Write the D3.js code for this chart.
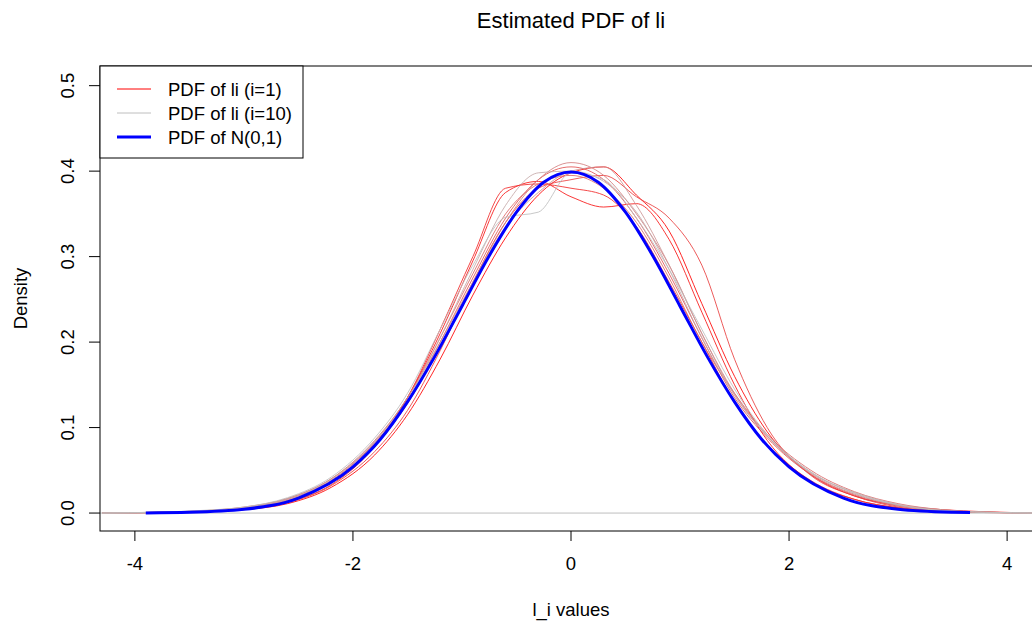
<!DOCTYPE html>
<html lang="en">
<head>
  <meta charset="UTF-8">
  <title>Estimated PDF of li</title>
  <script src="https://d3js.org/d3.v7.min.js"></script>
  <style>
    body { margin: 0; background: #fff; }
    text { font-family: "Liberation Sans", Arial, sans-serif; fill: #000; }
  </style>
</head>
<body>
  <div id="chart"></div>
  <script>
    // Data
    const gridX = [-4.3, -3.8, -3.4, -3, -2.6, -2.2, -1.8, -1.5, -1.2, -0.9, -0.6, -0.3, 0,
                   0.3, 0.6, 0.9, 1.2, 1.5, 1.8, 2.2, 2.6, 3, 3.4, 3.8, 4.3];

    const pdf1  = [0, 0.0005, 0.0015, 0.004, 0.011, 0.030, 0.068, 0.115, 0.180, 0.255, 0.322, 0.372, 0.398, 0.405, 0.372, 0.330, 0.245, 0.160, 0.095, 0.045, 0.020, 0.009, 0.004, 0.0015, 0];
    const pdf2  = [0, 0.0008, 0.002, 0.005, 0.014, 0.036, 0.080, 0.135, 0.210, 0.295, 0.375, 0.388, 0.370, 0.358, 0.362, 0.320, 0.235, 0.150, 0.085, 0.037, 0.016, 0.006, 0.002, 0.0008, 0];
    const pdf3  = [0, 0.0006, 0.0018, 0.005, 0.013, 0.033, 0.078, 0.135, 0.215, 0.300, 0.380, 0.385, 0.380, 0.372, 0.335, 0.270, 0.200, 0.130, 0.080, 0.038, 0.016, 0.006, 0.002, 0.0006, 0];
    const pdf4  = [0, 0.0004, 0.0012, 0.004, 0.012, 0.032, 0.072, 0.120, 0.190, 0.270, 0.340, 0.380, 0.390, 0.395, 0.370, 0.345, 0.290, 0.180, 0.100, 0.044, 0.020, 0.007, 0.002, 0.0006, 0];
    const pdf5  = [0, 0.0007, 0.002, 0.006, 0.016, 0.038, 0.082, 0.130, 0.200, 0.275, 0.345, 0.390, 0.405, 0.390, 0.345, 0.280, 0.205, 0.135, 0.088, 0.045, 0.021, 0.008, 0.003, 0.001, 0];
    const pdf6  = [0, 0.001, 0.0025, 0.007, 0.017, 0.040, 0.085, 0.135, 0.205, 0.280, 0.350, 0.385, 0.395, 0.380, 0.340, 0.275, 0.200, 0.140, 0.092, 0.050, 0.025, 0.011, 0.004, 0.001, 0];
    const pdf7  = [0, 0.0008, 0.002, 0.006, 0.015, 0.036, 0.078, 0.128, 0.195, 0.270, 0.340, 0.390, 0.410, 0.395, 0.350, 0.290, 0.210, 0.140, 0.090, 0.046, 0.022, 0.009, 0.003, 0.001, 0];
    const pdf8  = [0, 0.0009, 0.0025, 0.0065, 0.017, 0.040, 0.083, 0.135, 0.200, 0.270, 0.335, 0.375, 0.400, 0.405, 0.360, 0.290, 0.210, 0.138, 0.090, 0.047, 0.024, 0.010, 0.004, 0.001, 0];
    const pdf9  = [0, 0.0008, 0.0022, 0.0062, 0.016, 0.039, 0.084, 0.132, 0.205, 0.285, 0.360, 0.398, 0.400, 0.388, 0.352, 0.285, 0.205, 0.138, 0.090, 0.048, 0.023, 0.009, 0.003, 0.001, 0];
    const pdf10 = [0, 0.001, 0.003, 0.007, 0.018, 0.042, 0.088, 0.140, 0.215, 0.290, 0.346, 0.352, 0.398, 0.390, 0.345, 0.285, 0.215, 0.145, 0.092, 0.048, 0.024, 0.010, 0.003, 0.001, 0];
    const samples = [pdf1, pdf2, pdf3, pdf4, pdf5, pdf6, pdf7, pdf8, pdf9, pdf10];

    // Reference N(0,1) curve
    const normX = [-3.9, -3.5, -3, -2.5, -2, -1.75, -1.5, -1.25, -1, -0.75, -0.5, -0.25, 0,
                   0.25, 0.5, 0.75, 1, 1.25, 1.5, 1.75, 2, 2.5, 3, 3.5, 3.66];
    const normY = [0.0002, 0.0009, 0.0044, 0.0175, 0.054, 0.086, 0.130, 0.183, 0.242, 0.301, 0.352, 0.387, 0.399,
                   0.387, 0.352, 0.301, 0.242, 0.183, 0.130, 0.086, 0.054, 0.0175, 0.0044, 0.0009, 0.0005];

    const xTicks = [-4, -2, 0, 2, 4];
    const yTicks = [0.0, 0.1, 0.2, 0.3, 0.4, 0.5];
    const legendLabels = ["PDF of li (i=1)", "PDF of li (i=10)", "PDF of N(0,1)"];

    // Dimensions
    const width = 1032, height = 624;
    const plot = { left: 100, right: 1042, top: 66, bottom: 531 };
    const fs = 18.5; // base font size

    const svg = d3.select("#chart").append("svg")
      .attr("width", width)
      .attr("height", height);

    const x = d3.scaleLinear().domain([-4.32, 4.32]).range([plot.left, plot.right]);
    const y = d3.scaleLinear().domain([-0.021, 0.523]).range([plot.bottom, plot.top]);

    // colour ramp red -> grey like colorRampPalette(c("red","gray"))
    const ramp = d3.interpolateRgb("#ff0000", "#bebebe");
    const colorOf = i => ramp(i / (samples.length - 1));

    svg.append("clipPath").attr("id", "clip")
      .append("rect")
      .attr("x", plot.left).attr("y", plot.top)
      .attr("width", plot.right - plot.left).attr("height", plot.bottom - plot.top);

    const g = svg.append("g").attr("clip-path", "url(#clip)");

    const line = d3.line()
      .x(d => x(d[0]))
      .y(d => y(d[1]))
      .curve(d3.curveMonotoneX);

    // sample density curves
    samples.forEach((vals, i) => {
      g.append("path")
        .datum(gridX.map((v, k) => [v, vals[k]]))
        .attr("d", line)
        .attr("fill", "none")
        .attr("stroke", colorOf(i))
        .attr("stroke-width", 1)
        .attr("opacity", 0.85);
    });

    // zero line
    g.append("line")
      .attr("x1", plot.left).attr("x2", plot.right)
      .attr("y1", y(0)).attr("y2", y(0))
      .attr("stroke", "#bebebe").attr("stroke-width", 1);

    // N(0,1)
    g.append("path")
      .datum(normX.map((v, k) => [v, normY[k]]))
      .attr("d", line)
      .attr("fill", "none")
      .attr("stroke", "#0000ff")
      .attr("stroke-width", 3);

    // plot box
    svg.append("rect")
      .attr("x", plot.left).attr("y", plot.top)
      .attr("width", plot.right - plot.left).attr("height", plot.bottom - plot.top)
      .attr("fill", "none").attr("stroke", "#000").attr("stroke-width", 1);

    // x axis
    const xAxis = svg.append("g");
    xAxis.selectAll("line").data(xTicks).join("line")
      .attr("x1", d => x(d)).attr("x2", d => x(d))
      .attr("y1", plot.bottom).attr("y2", plot.bottom + 10)
      .attr("stroke", "#000");
    xAxis.selectAll("text").data(xTicks).join("text")
      .attr("x", d => x(d)).attr("y", 570)
      .attr("text-anchor", "middle")
      .style("font-size", fs + "px")
      .text(d => d);

    // y axis
    const yAxis = svg.append("g");
    yAxis.selectAll("line").data(yTicks).join("line")
      .attr("x1", plot.left - 11).attr("x2", plot.left)
      .attr("y1", d => y(d)).attr("y2", d => y(d))
      .attr("stroke", "#000");
    yAxis.selectAll("text").data(yTicks).join("text")
      .attr("transform", d => `translate(74,${y(d)}) rotate(-90)`)
      .attr("text-anchor", "middle")
      .style("font-size", fs + "px")
      .text(d => d.toFixed(1));

    // titles
    svg.append("text")
      .attr("x", (plot.left + plot.right) / 2).attr("y", 28)
      .attr("text-anchor", "middle")
      .style("font-size", "22px")
      .text("Estimated PDF of li");

    svg.append("text")
      .attr("x", (plot.left + plot.right) / 2).attr("y", 616)
      .attr("text-anchor", "middle")
      .style("font-size", fs + "px")
      .text("l_i values");

    svg.append("text")
      .attr("transform", `translate(27,${(plot.top + plot.bottom) / 2}) rotate(-90)`)
      .attr("text-anchor", "middle")
      .style("font-size", fs + "px")
      .text("Density");

    // legend
    const legend = svg.append("g");
    legend.append("rect")
      .attr("x", plot.left).attr("y", plot.top)
      .attr("width", 203).attr("height", 92)
      .attr("fill", "#fff").attr("stroke", "#000");

    const legendColors = [colorOf(0), colorOf(samples.length - 1), "#0000ff"];
    const legendWidths = [1, 1, 3];
    const rowY = [89, 113, 137];
    legendLabels.forEach((lab, i) => {
      legend.append("line")
        .attr("x1", 117).attr("x2", 151)
        .attr("y1", rowY[i]).attr("y2", rowY[i])
        .attr("stroke", legendColors[i])
        .attr("stroke-width", legendWidths[i]);
      legend.append("text")
        .attr("x", 168).attr("y", rowY[i] + 6.5)
        .style("font-size", fs + "px")
        .text(lab);
    });
  </script>
</body>
</html>
